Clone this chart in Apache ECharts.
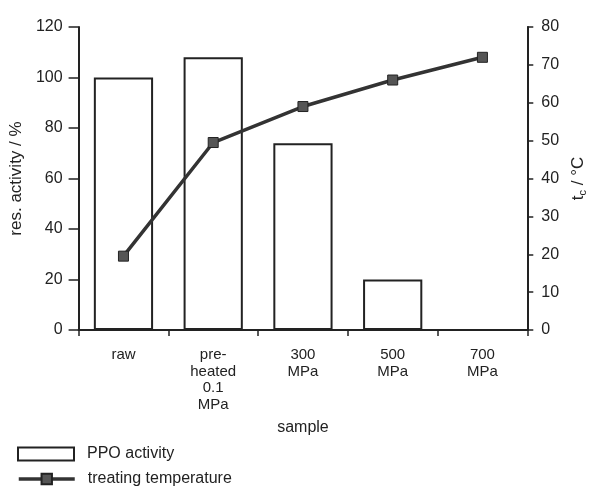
<!DOCTYPE html>
<html><head><meta charset="utf-8">
<script src="https://cdn.jsdelivr.net/npm/echarts@6/dist/echarts.min.js"></script>
<style>html,body{margin:0;padding:0;background:#fff}#c{width:596px;height:488px}</style>
</head><body><div id="c"></div>
<script>
const categories = ['raw', 'pre-\nheated\n0.1\nMPa', '300\nMPa', '500\nMPa', '700\nMPa'];
const ppoActivity = [100, 108, 74, 20, 0];
const treatingTemp = [19.5, 49.5, 59, 66, 72];
const leftTicks = [0, 20, 40, 60, 80, 100, 120];
const rightTicks = [0, 10, 20, 30, 40, 50, 60, 70, 80];

const FONT = 'Liberation Sans';
const TXT = '#222';
const legendBase = {
  orient: 'vertical', left: 17, padding: 0,
  itemWidth: 56, itemHeight: 13,
  textStyle: {fontFamily: FONT, fontSize: 16, color: TXT, padding: [0, 0, 0, 8]}
};
const chart = echarts.init(document.getElementById('c'), null, {renderer: 'canvas'});
chart.setOption({
  backgroundColor: '#fff',
  animation: false,
  textStyle: {fontFamily: FONT, color: TXT},
  grid: {left: 78, right: 62, top: 27, bottom: 158},
  legend: [
    Object.assign({}, legendBase, {top: 446, data: [{name: 'PPO activity', icon: 'rect'}]}),
    Object.assign({}, legendBase, {top: 471, lineStyle: {width: 3.5}, data: [{name: 'treating temperature'}]})
  ],
  xAxis: {
    type: 'category', data: categories,
    name: 'sample', nameLocation: 'middle', nameGap: 90,
    nameTextStyle: {fontSize: 16, color: TXT},
    axisLine: {lineStyle: {color: '#222', width: 2}},
    axisTick: {show: true, length: 6, lineStyle: {color: '#222', width: 1.5}},
    axisLabel: {fontSize: 15, color: TXT, lineHeight: 16.5, margin: 17, interval: 0}
  },
  yAxis: [{
    type: 'value', min: 0, max: 120, interval: 20,
    name: 'res. activity / %', nameLocation: 'middle', nameGap: 50, nameRotate: 90,
    nameTextStyle: {fontSize: 17, color: TXT},
    axisLine: {show: true, lineStyle: {color: '#222', width: 2}},
    axisTick: {show: true, length: 10, lineStyle: {color: '#222', width: 1.5}},
    axisLabel: {fontSize: 16, color: TXT, margin: 16},
    splitLine: {show: false}
  }, {
    type: 'value', min: 0, max: 80, interval: 10, position: 'right',
    name: '{t|t}{s|c}{t| / °C}', nameLocation: 'middle', nameGap: 40, nameRotate: 90,
    nameTextStyle: {rich: {t: {fontSize: 17, color: TXT}, s: {fontSize: 11, color: TXT, padding: [8, 0, 0, 0]}}},
    axisLine: {show: true, lineStyle: {color: '#222', width: 2}},
    axisTick: {show: true, length: 6, lineStyle: {color: '#222', width: 1.5}},
    axisLabel: {fontSize: 16, color: TXT, margin: 14},
    splitLine: {show: false}
  }],
  series: [{
    name: 'PPO activity', type: 'bar', yAxisIndex: 0, data: ppoActivity,
    barWidth: '66%',
    itemStyle: {color: '#fff', borderColor: '#222', borderWidth: 2}
  }, {
    name: 'treating temperature', type: 'line', yAxisIndex: 1, data: treatingTemp,
    symbol: 'rect', symbolSize: 10,
    lineStyle: {color: '#333', width: 3.5},
    itemStyle: {color: '#555', borderColor: '#222', borderWidth: 1}
  }]
});
</script></body></html>
